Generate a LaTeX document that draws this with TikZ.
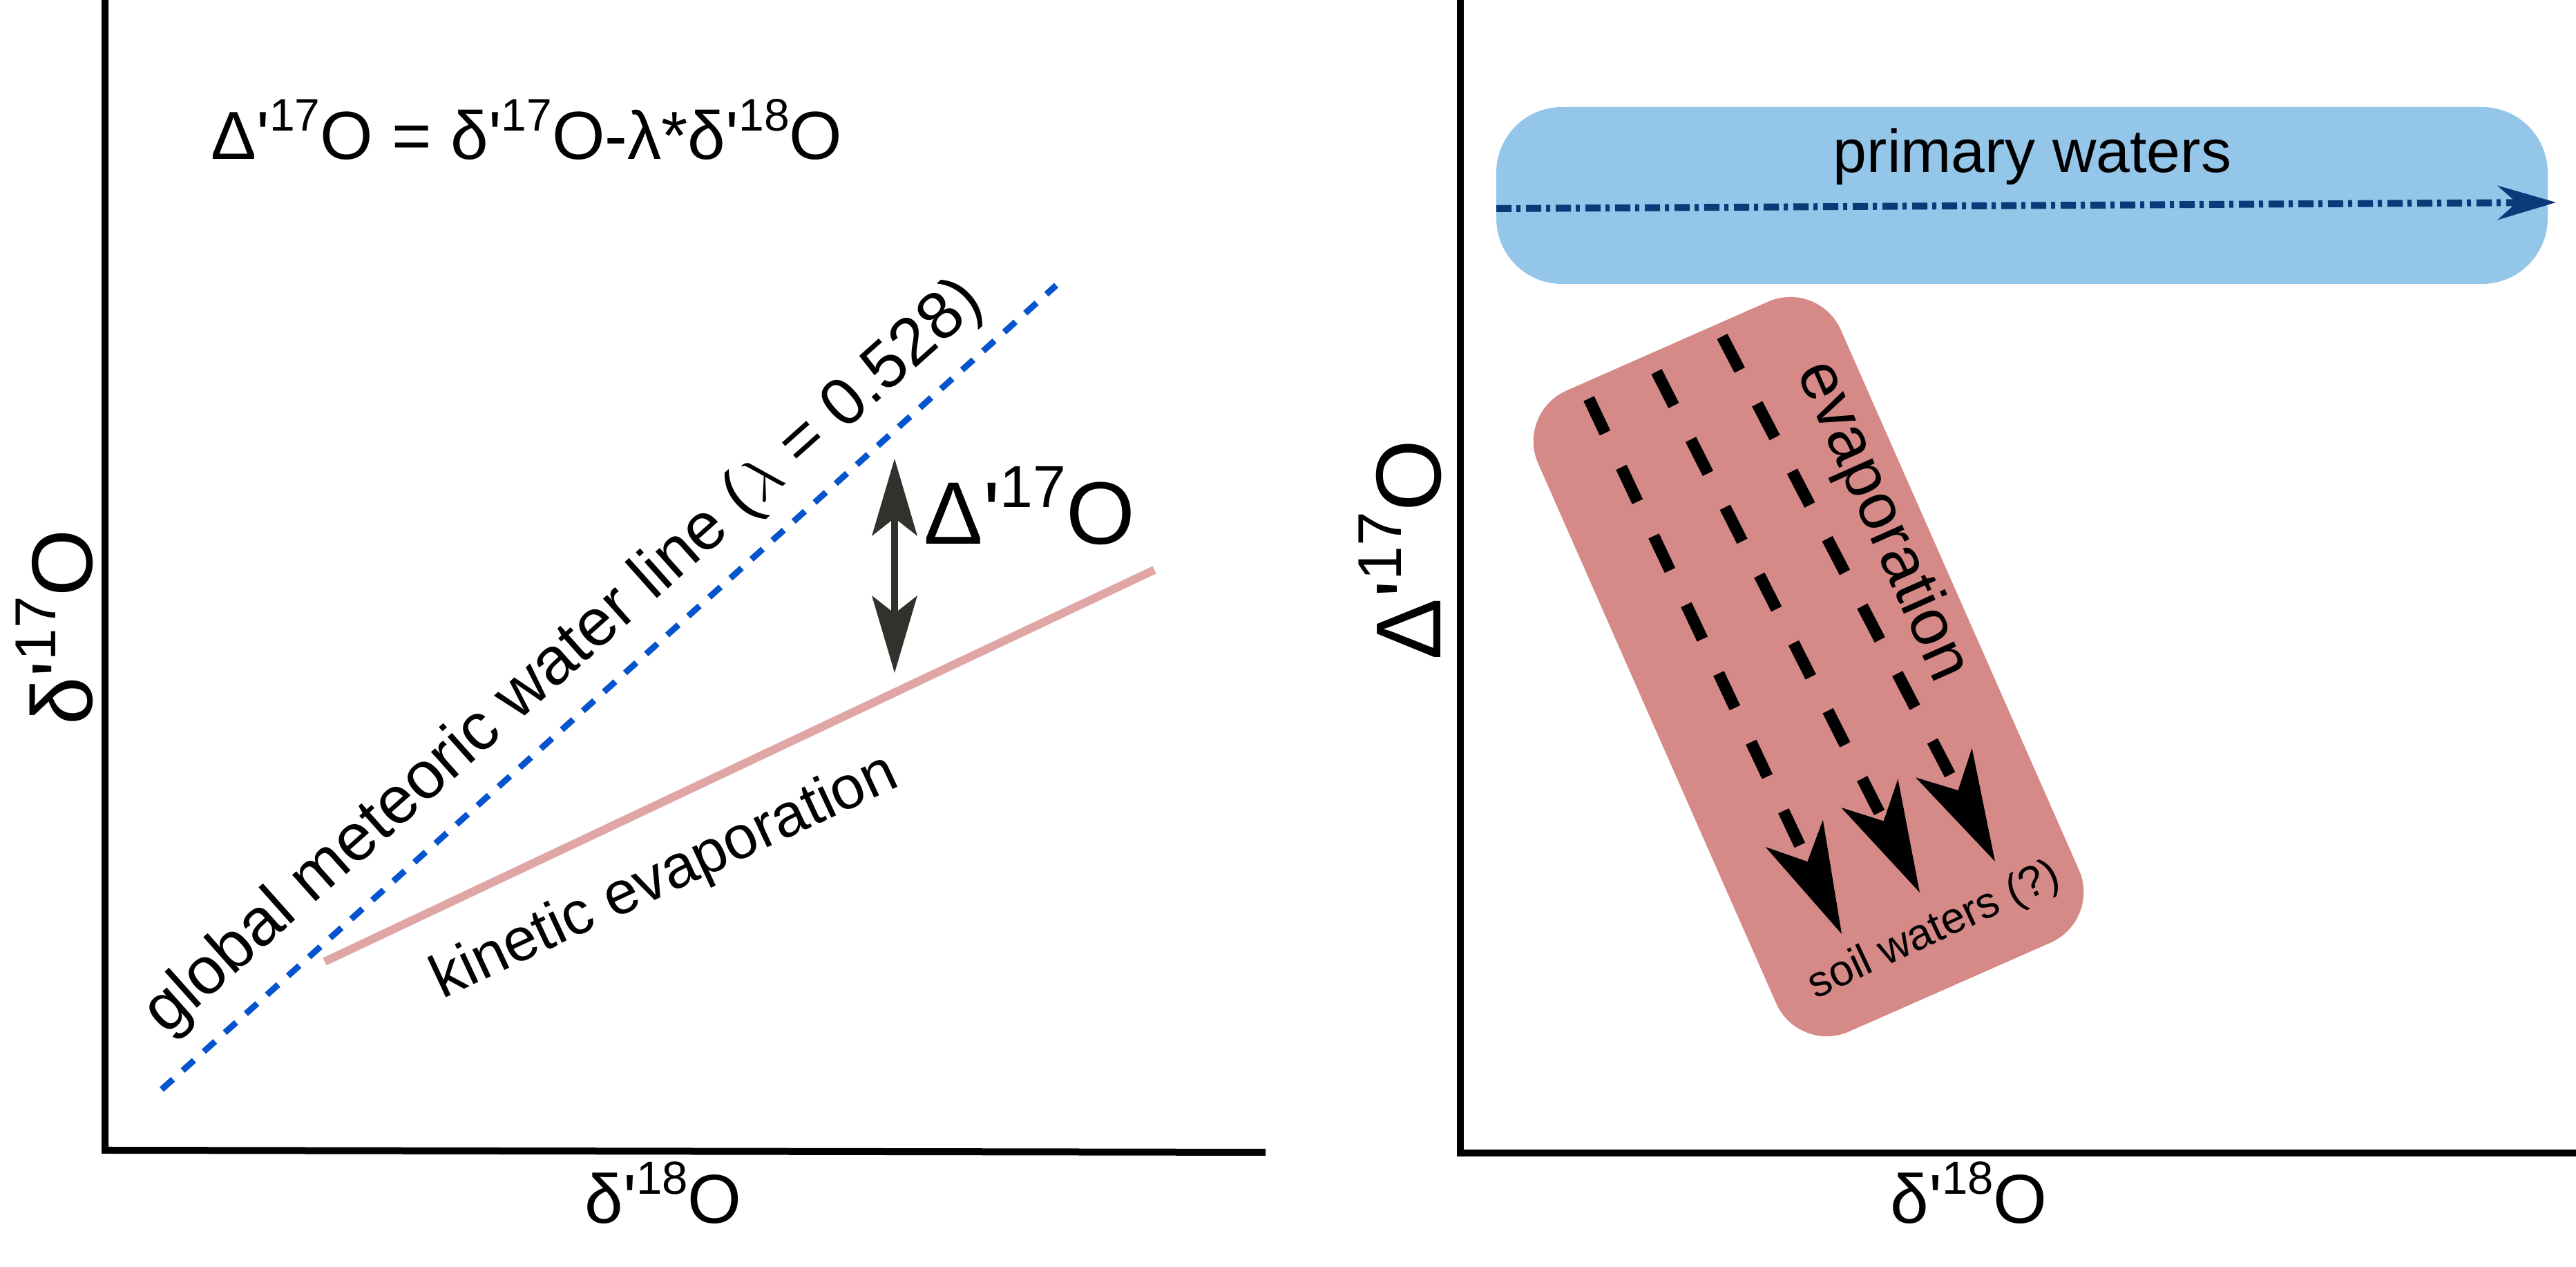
\documentclass[tikz,border=0pt]{standalone}
\usepackage{fontspec}
\setmainfont{Liberation Sans}[Ligatures=TeXOff]
\usepackage{graphicx}
\usetikzlibrary{arrows.meta}

\definecolor{gmwlblue}{RGB}{6,84,205}
\definecolor{kinpink}{RGB}{224,165,165}
\definecolor{arrowgrey}{RGB}{50,50,45}
\definecolor{primblue}{RGB}{147,198,232}
\definecolor{evappink}{RGB}{214,138,136}
\definecolor{navyflow}{RGB}{12,57,120}

\newcommand{\isotop}[1]{\raisebox{0.42em}{\scalebox{0.67}{#1}}}

\tikzstyle{axis} = [line width=1mm]
\tikzstyle{lbl} = [inner sep=0pt]
\tikzstyle{formula} = [lbl, font=\fontsize{28}{34}\selectfont]
\tikzstyle{ylabelL} = [lbl, font=\fontsize{35.5}{42}\selectfont]
\tikzstyle{ylabelR} = [lbl, font=\fontsize{38}{45}\selectfont]
\tikzstyle{xlabel} = [lbl, font=\fontsize{28.5}{34}\selectfont]
\tikzstyle{biglabel} = [lbl, font=\fontsize{36.5}{43}\selectfont]
\tikzstyle{linelabel} = [lbl, font=\fontsize{27.5}{33}\selectfont]
\tikzstyle{kinlabel} = [lbl, font=\fontsize{25}{30}\selectfont]
\tikzstyle{boxlabel} = [lbl, font=\fontsize{25}{30}\selectfont]
\tikzstyle{smalllabel} = [lbl, font=\fontsize{18}{22}\selectfont]
\tikzstyle{gmwlline} = [gmwlblue, line width=0.9mm, dash pattern=on 2.2mm off 1.9mm]
\tikzstyle{kinline} = [kinpink, line width=1.2mm]
\tikzstyle{dbl} = [arrowgrey, line width=1mm,
	{Stealth[length=11.2mm, width=6.6mm, inset=2.6mm, line width=0pt]}-{Stealth[length=11.2mm, width=6.6mm, inset=2.6mm, line width=0pt]}]
\tikzstyle{primbox} = [fill=primblue, rounded corners=9.5mm, inner sep=0pt,
	minimum width=15.22cm, minimum height=2.56cm]
\tikzstyle{evapbox} = [fill=evappink, rounded corners=8mm, inner sep=0pt,
	minimum width=4.79cm, minimum height=10.14cm]
\tikzstyle{primflow} = [navyflow, line width=1mm,
	dash pattern=on 2.2mm off 0.7mm on 0.6mm off 0.8mm,
	-{Stealth[length=8.5mm, width=5mm, inset=2.8mm, line width=0pt]}]
\tikzstyle{evapflow} = [black, line width=1.7mm, dash pattern=on 5.5mm off 5.5mm,
	-{Stealth[length=16.1mm, width=9.2mm, inset=4.5mm, line width=0pt]}]

\begin{document}
\begin{tikzpicture}
	\useasboundingbox (0,0) rectangle (37.29,18.34);
	% left panel
	\draw[axis] (1.52,18.34) -- (1.52,1.69) -- (18.32,1.66);
	\node[formula, anchor=base west] (formula) at (3.05,16.03)
		{Δ'\isotop{17}O = δ'\isotop{17}O-λ*δ'\isotop{18}O};
	\node[ylabelL, rotate=90, anchor=base] (ylabL) at (1.33,9.26) {δ'\isotop{17}O};
	\node[xlabel, anchor=base] (xlabL) at (9.60,0.63) {δ'\isotop{18}O};
	\coordinate (gmwlA) at (2.34,2.57);
	\coordinate (gmwlB) at (15.29,14.21);
	\coordinate (kinA) at (4.70,4.42);
	\coordinate (kinB) at (16.71,10.09);
	\draw[gmwlline] (gmwlA) -- (gmwlB);
	\draw[kinline] (kinA) -- (kinB);
	\node[linelabel, rotate=41.7] (gmwl) at (8.17,8.82)
		{global meteoric water line ($\lambda$ = 0.528)};
	\node[kinlabel, rotate=25] (kinevap) at (9.63,5.63) {kinetic evaporation};
	\coordinate (dlow) at (12.95,8.60);
	\coordinate (dhigh) at (12.95,11.70);
	\draw[dbl] (dlow) -- (dhigh);
	\node[biglabel, anchor=base west] (dlabel) at (13.37,10.46) {Δ'\isotop{17}O};
	% right panel
	\draw[axis] (21.14,18.34) -- (21.14,1.65) -- (37.29,1.65);
	\node[ylabelR, rotate=90, anchor=base] (ylabR) at (20.85,10.38) {Δ'\isotop{17}O};
	\node[xlabel, anchor=base] (xlabR) at (28.50,0.63) {δ'\isotop{18}O};
	\node[primbox] (primbox) at (29.27,15.51) {};
	\node[boxlabel, anchor=base] (primary) at (29.42,15.84) {primary waters};
	\coordinate (primA) at (21.66,15.32);
	\coordinate (primB) at (37.00,15.41);
	\draw[primflow] (primA) -- (primB);
	\node[evapbox, rotate=23.8] (evapbox) at (26.18,8.69) {};
	\coordinate (flowA1) at (23.00,12.57);
	\coordinate (flowB1) at (26.66,4.82);
	\coordinate (flowA2) at (23.98,12.96);
	\coordinate (flowB2) at (27.79,5.42);
	\coordinate (flowA3) at (24.93,13.47);
	\coordinate (flowB3) at (28.88,5.87);
	\draw[evapflow] (flowA1) -- (flowB1);
	\draw[evapflow] (flowA2) -- (flowB2);
	\draw[evapflow] (flowA3) -- (flowB3);
	\node[boxlabel, rotate=-66, font=\fontsize{27}{32}\selectfont] (evap) at (27.24,10.79) {evaporation};
	\node[smalllabel, rotate=25] (soil) at (28.00,4.86) {soil waters (?)};
\end{tikzpicture}
\end{document}
